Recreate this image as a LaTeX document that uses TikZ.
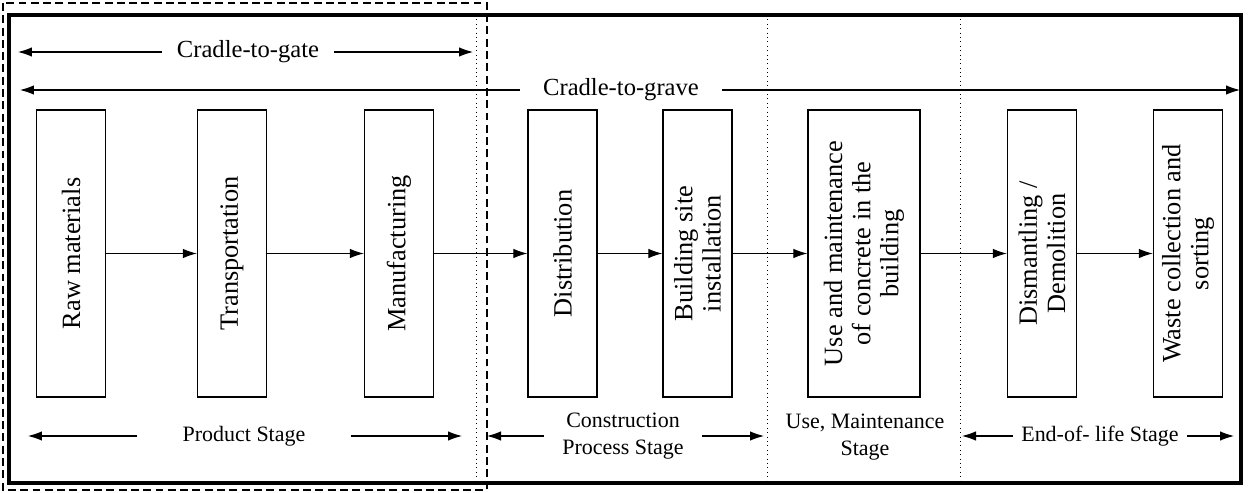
\documentclass[tikz,border=0pt]{standalone}
\usepackage{fontspec}
\setmainfont{Liberation Serif}
\usetikzlibrary{arrows.meta}

\begin{document}
\begin{tikzpicture}
      [x=0.02cm, y=0.02cm,
       box/.style={draw, line width=0.7pt, rotate=90, minimum width=5.74cm, minimum height=1.38cm,
                   align=center, inner sep=0pt, font=\fontsize{15}{16}\selectfont},
       span/.style={inner ysep=0pt, font=\fontsize{14}{16}\selectfont},
       stage/.style={inner ysep=0pt, align=center, font=\fontsize{12.5}{15.4}\selectfont},
       flow/.style={-{Latex[length=2.8mm,width=1.9mm]}, line width=0.6pt},
       divider/.style={dotted, line width=0.5pt}]
      \useasboundingbox (0,0) rectangle (1248,-493);

      % frames
      \draw [line width=1.8pt] (9,-15) rectangle (1241,-483);
      \draw [line width=1.6pt, dash pattern=on 4.5pt off 2.5pt] (3,-3) rectangle (487,-490);
      \foreach \x in {476, 767, 960}
      \draw [divider] (\x,-15) -- (\x,-483);

      % life cycle steps
      \node [box] (raw)   at (71,-253.5)   {Raw materials};
      \node [box] (trans) at (232,-253.5)  {Transportation};
      \node [box] (manu)  at (399,-253.5)  {Manufacturing};
      \node [box] (dist)  at (562.5,-253.5) {Distribution};
      \node [box] (site)  at (697.5,-253.5) {Building site\\installation};
      \node [box, minimum height=2.24cm] (use) at (864,-253.5)
            {Use and maintenance\\of concrete in the\\building};
      \node [box] (dism)  at (1042,-253.5) {Dismantling /\\Demolition};
      \node [box] (waste) at (1188,-253.5) {Waste collection and\\sorting};

      \foreach \from/\to in {raw/trans, trans/manu, manu/dist, dist/site, site/use, use/dism, dism/waste}
      \draw [flow] (\from) -- (\to);

      % system boundaries
      \node [span, inner xsep=0.3cm] (gate) at (248,-52) {Cradle-to-gate};
      \coordinate (gateL) at (18,-52);
      \coordinate (gateR) at (473,-52);
      \draw [flow] (gate) -- (gateL);
      \draw [flow] (gate) -- (gateR);

      \node [span, inner xsep=0.46cm] (grave) at (621,-90) {Cradle-to-grave};
      \coordinate (graveL) at (20,-90);
      \coordinate (graveR) at (1240,-90);
      \draw [flow] (grave) -- (graveL);
      \draw [flow] (grave) -- (graveR);

      % stages
      \node [stage, inner xsep=0.9cm] (prod) at (244,-436) {Product Stage};
      \coordinate (prodL) at (28,-436);
      \coordinate (prodR) at (462,-436);
      \draw [flow] (prod) -- (prodL);
      \draw [flow] (prod) -- (prodR);

      \node [stage, inner xsep=0.36cm] (cons) at (623,-436) {Construction\\Process Stage};
      \coordinate (consL) at (487,-436);
      \coordinate (consR) at (764,-436);
      \draw [flow] (cons) -- (consL);
      \draw [flow] (cons) -- (consR);

      \node [stage] (maint) at (865,-437) {Use, Maintenance\\Stage};

      \node [stage, inner xsep=0.16cm] (eol) at (1100,-436) {End-of- life Stage};
      \coordinate (eolL) at (962,-436);
      \coordinate (eolR) at (1234,-436);
      \draw [flow] (eol) -- (eolL);
      \draw [flow] (eol) -- (eolR);
    \end{tikzpicture}
\end{document}
